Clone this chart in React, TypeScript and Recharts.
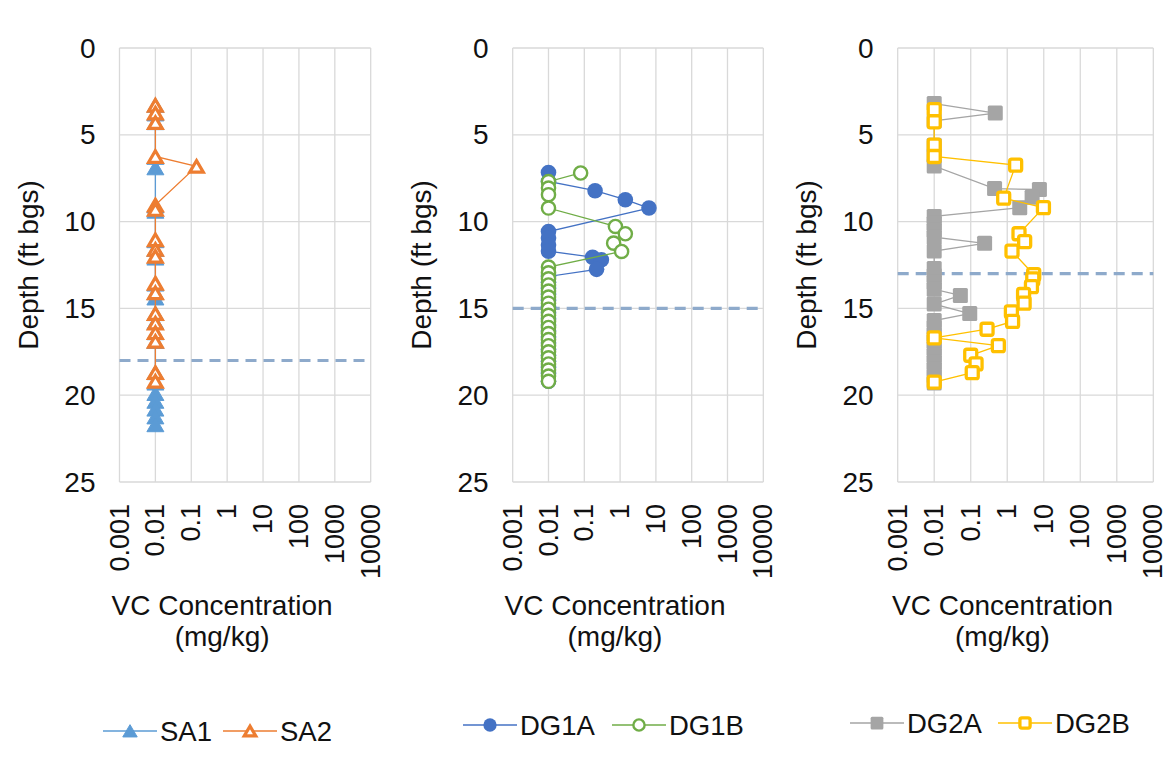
import React from 'react';
import {
  ScatterChart,
  Scatter,
  XAxis,
  YAxis,
  CartesianGrid,
  ReferenceLine
} from 'recharts';

const FONT = '"Liberation Sans", Arial, Helvetica, sans-serif';
const TEXT = '#111111';

// axis ticks
const xTicks = [0.001, 0.01, 0.1, 1, 10, 100, 1000, 10000];
const xTickLabels = ['0.001', '0.01', '0.1', '1', '10', '100', '1000', '10000'];
const yTicks = [0, 5, 10, 15, 20, 25];

// SA boring (left panel)
const sa1Depth = [3.3, 3.8, 4.3, 6.3, 6.9, 9.1, 9.4, 11.1, 11.6, 12.1, 13.6, 14.1, 14.4, 15.3, 15.8, 16.4, 16.9, 18.7, 19.3, 19.9, 20.35, 20.8, 21.25, 21.7];
const sa1Conc = [0.01, 0.01, 0.01, 0.01, 0.01, 0.01, 0.01, 0.01, 0.01, 0.01, 0.01, 0.01, 0.01, 0.01, 0.01, 0.01, 0.01, 0.01, 0.01, 0.01, 0.01, 0.01, 0.01, 0.01];
const sa2Depth = [3.3, 3.75, 4.3, 6.25, 6.82, 9.05, 9.3, 11.05, 11.6, 12.0, 13.55, 14.1, 15.3, 15.85, 16.4, 16.9, 18.7, 19.2];
const sa2Conc = [0.01, 0.01, 0.01, 0.01, 0.14, 0.01, 0.01, 0.01, 0.01, 0.01, 0.01, 0.01, 0.01, 0.01, 0.01, 0.01, 0.01, 0.01];

// DG1 (middle panel)
const dg1aDepth = [7.17, 7.69, 8.22, 8.74, 9.22, 10.57, 10.95, 11.35, 11.7, 12.05, 12.2, 12.75, 13.16, 13.5, 13.85, 14.2, 14.55, 14.9, 15.25, 15.6, 15.95, 16.3, 16.65, 17.0, 17.35, 17.7, 18.05, 18.4, 18.75, 19.2];
const dg1aConc = [0.01, 0.01, 0.2, 1.4, 6.4, 0.01, 0.01, 0.01, 0.01, 0.17, 0.3, 0.22, 0.01, 0.01, 0.01, 0.01, 0.01, 0.01, 0.01, 0.01, 0.01, 0.01, 0.01, 0.01, 0.01, 0.01, 0.01, 0.01, 0.01, 0.01];
const dg1bDepth = [7.2, 7.7, 8.07, 8.45, 9.22, 10.28, 10.7, 11.24, 11.72, 12.62, 12.95, 13.3, 13.65, 14.0, 14.35, 14.7, 15.05, 15.4, 15.75, 16.1, 16.45, 16.8, 17.15, 17.5, 17.85, 18.2, 18.55, 18.9, 19.2];
const dg1bConc = [0.079, 0.01, 0.01, 0.01, 0.01, 0.74, 1.4, 0.66, 1.1, 0.01, 0.01, 0.01, 0.01, 0.01, 0.01, 0.01, 0.01, 0.01, 0.01, 0.01, 0.01, 0.01, 0.01, 0.01, 0.01, 0.01, 0.01, 0.01, 0.01];

// DG2 (right panel)
const dg2aDepth = [3.2, 3.75, 4.2, 5.6, 6.2, 6.8, 8.1, 8.15, 8.6, 9.2, 9.7, 10.1, 10.5, 10.9, 11.25, 11.7, 12.7, 13.1, 13.5, 13.9, 14.25, 14.75, 15.3, 15.7, 16.1, 16.5, 16.9, 17.3, 17.7, 18.1, 18.5, 18.9, 19.3];
const dg2aConc = [0.01, 0.47, 0.01, 0.01, 0.01, 0.01, 0.45, 7.6, 4.8, 2.2, 0.01, 0.01, 0.01, 0.01, 0.24, 0.01, 0.01, 0.01, 0.01, 0.01, 0.052, 0.01, 0.094, 0.01, 0.01, 0.01, 0.01, 0.01, 0.01, 0.01, 0.01, 0.01, 0.01];
const dg2bDepth = [3.55, 4.25, 5.6, 6.25, 6.75, 8.65, 9.2, 10.7, 11.15, 11.7, 13.05, 13.3, 13.75, 14.2, 14.7, 15.2, 15.75, 16.2, 16.7, 17.15, 17.7, 18.2, 18.7, 19.25];
const dg2bConc = [0.01, 0.01, 0.01, 0.01, 1.7, 0.8, 9.8, 2.1, 3.0, 1.35, 5.3, 5.0, 4.6, 2.8, 2.9, 1.3, 1.4, 0.28, 0.01, 0.57, 0.1, 0.14, 0.11, 0.01];

// water table / reference depth per panel
const refDepths = [18, 15, 13];

const toPoints = (conc: number[], depth: number[]) =>
  depth.map((d, i) => ({ x: conc[i], y: d }));

// ---- markers ----
const drawMarker = (kind: string, color: string, cx: number, cy: number, small = false) => {
  const k = small ? 0.85 : 1;
  switch (kind) {
    case 'triangle':
      return (
        <polygon
          points={`${cx},${cy - 7.5 * k} ${cx + 8.5 * k},${cy + 7 * k} ${cx - 8.5 * k},${cy + 7 * k}`}
          fill={color}
          stroke={color}
          strokeWidth={1}
          strokeLinejoin="round"
        />
      );
    case 'triangleOpen':
      return (
        <polygon
          points={`${cx},${cy - 5.8 * k} ${cx + 6.8 * k},${cy + 5.8 * k} ${cx - 6.8 * k},${cy + 5.8 * k}`}
          fill="#fff"
          stroke={color}
          strokeWidth={3.2}
          strokeLinejoin="miter"
        />
      );
    case 'circle':
      return <circle cx={cx} cy={cy} r={7.8 * k} fill={color} />;
    case 'circleOpen':
      return <circle cx={cx} cy={cy} r={6.6 * k} fill="#fff" stroke={color} strokeWidth={2.4} />;
    case 'square':
      return (
        <rect x={cx - 7.5 * k} y={cy - 7.5 * k} width={15 * k} height={15 * k} rx={1.5} fill={color} />
      );
    case 'squareOpen':
      return (
        <rect
          x={cx - 6 * k}
          y={cy - 6 * k}
          width={12 * k}
          height={12 * k}
          rx={2}
          fill="#fff"
          stroke={color}
          strokeWidth={3.3}
        />
      );
    default:
      return null;
  }
};

const markerShape = (kind: string, color: string) => (props: any) => {
  const { cx, cy } = props;
  if (cx == null || cy == null) return null;
  return drawMarker(kind, color, cx, cy);
};

const XTick = (props: any) => {
  const { x, y, payload } = props;
  const idx = xTicks.indexOf(payload.value);
  return (
    <text
      transform={`translate(${x},${y}) rotate(-90)`}
      textAnchor="end"
      dominantBaseline="central"
      fontSize={27}
      fontFamily={FONT}
      fill={TEXT}
    >
      {idx >= 0 ? xTickLabels[idx] : payload.value}
    </text>
  );
};

const YTick = (props: any) => {
  const { x, y, payload } = props;
  return (
    <text x={x} y={y} textAnchor="end" dominantBaseline="central" fontSize={28} fontFamily={FONT} fill={TEXT}>
      {payload.value}
    </text>
  );
};

const panels = [
  {
    left: 0,
    width: 390,
    mLeft: 79.5,
    mRight: 19.3,
    series: [
      { name: 'SA1', color: '#5B9BD5', kind: 'triangle', data: toPoints(sa1Conc, sa1Depth) },
      { name: 'SA2', color: '#ED7D31', kind: 'triangleOpen', data: toPoints(sa2Conc, sa2Depth) }
    ],
    legendX: [103, 223],
    legendY: 731
  },
  {
    left: 393,
    width: 390,
    mLeft: 79.7,
    mRight: 19.7,
    series: [
      { name: 'DG1A', color: '#4472C4', kind: 'circle', data: toPoints(dg1aConc, dg1aDepth) },
      { name: 'DG1B', color: '#70AD47', kind: 'circleOpen', data: toPoints(dg1bConc, dg1bDepth) }
    ],
    legendX: [463, 612],
    legendY: 725
  },
  {
    left: 778,
    width: 389,
    mLeft: 79.7,
    mRight: 13.7,
    series: [
      { name: 'DG2A', color: '#A5A5A5', kind: 'square', data: toPoints(dg2aConc, dg2aDepth) },
      { name: 'DG2B', color: '#FFC000', kind: 'squareOpen', data: toPoints(dg2bConc, dg2bDepth) }
    ],
    legendX: [850, 998],
    legendY: 723
  }
];

const TOP = 48;
const BOTTOM = 482;
const Y_AXIS_W = 40;
const X_AXIS_H = 100;

const Panel = ({ p, refDepth }: any) => (
  <div style={{ position: 'absolute', left: p.left, top: 0 }}>
    <ScatterChart
      width={p.width}
      height={770}
      margin={{ top: TOP, right: p.mRight, left: p.mLeft, bottom: 770 - BOTTOM - X_AXIS_H }}
    >
      <CartesianGrid stroke="#d9d9d9" strokeWidth={1.3} />
      <XAxis
        type="number"
        dataKey="x"
        scale="log"
        domain={[0.001, 10000]}
        ticks={xTicks}
        interval={0}
        allowDataOverflow
        axisLine={false}
        tickLine={false}
        tickSize={0}
        tickMargin={22}
        height={X_AXIS_H}
        tick={(tp: any) => <XTick {...tp} />}
      />
      <YAxis
        type="number"
        dataKey="y"
        reversed
        domain={[0, 25]}
        ticks={yTicks}
        interval={0}
        axisLine={false}
        tickLine={false}
        tickSize={0}
        tickMargin={24}
        width={Y_AXIS_W}
        tick={(tp: any) => <YTick {...tp} />}
      />
      <ReferenceLine y={refDepth} stroke="#8eaacb" strokeWidth={3.2} strokeDasharray="11 7" />
      {p.series.map((s: any) => (
        <Scatter
          key={s.name}
          name={s.name}
          data={s.data}
          fill={s.color}
          line={{ stroke: s.color, strokeWidth: 1.3 }}
          lineType="joint"
          shape={markerShape(s.kind, s.color)}
          isAnimationActive={false}
        />
      ))}
    </ScatterChart>
  </div>
);

const Overlay = () => (
  <svg
    width={1167}
    height={770}
    style={{ position: 'absolute', left: 0, top: 0, pointerEvents: 'none' }}
  >
    {panels.map((p, i) => {
      const plotLeft = p.left + p.mLeft + Y_AXIS_W;
      const plotRight = p.left + p.width - p.mRight;
      const cx = (plotLeft + plotRight) / 2 - 23;
      return (
        <g key={i} fontFamily={FONT} fill={TEXT}>
          <text
            transform={`translate(${plotLeft - 91},${(TOP + BOTTOM) / 2}) rotate(-90)`}
            textAnchor="middle"
            dominantBaseline="central"
            fontSize={28}
          >
            Depth (ft bgs)
          </text>
          <text x={cx} y={605} textAnchor="middle" dominantBaseline="central" fontSize={28}>
            VC Concentration
          </text>
          <text x={cx} y={636} textAnchor="middle" dominantBaseline="central" fontSize={28}>
            (mg/kg)
          </text>
          {p.series.map((s, j) => {
            const sx = p.legendX[j];
            const y = p.legendY;
            return (
              <g key={s.name}>
                <line x1={sx} y1={y} x2={sx + 54} y2={y} stroke={s.color} strokeWidth={1.6} />
                {drawMarker(s.kind, s.color, sx + 27, y, true)}
                <text x={sx + 57} y={y} dominantBaseline="central" fontSize={27.5} fill={TEXT}>
                  {s.name}
                </text>
              </g>
            );
          })}
        </g>
      );
    })}
  </svg>
);

export default function App() {
  return (
    <div
      style={{
        position: 'absolute',
        left: 0,
        top: 0,
        width: 1167,
        height: 770,
        background: '#fff',
        overflow: 'hidden'
      }}
    >
      {panels.map((p, i) => (
        <Panel key={i} p={p} refDepth={refDepths[i]} />
      ))}
      <Overlay />
    </div>
  );
}
